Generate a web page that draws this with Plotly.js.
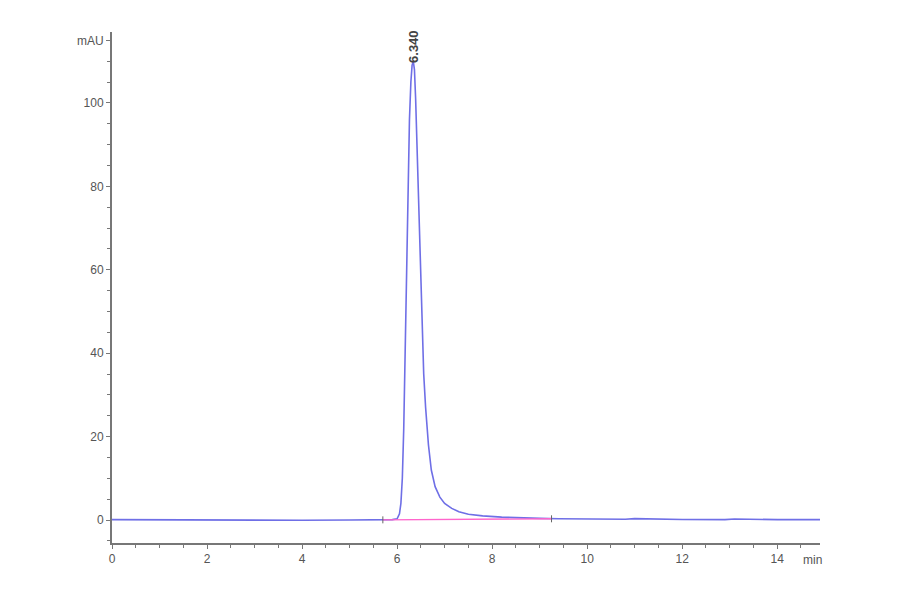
<!DOCTYPE html>
<html>
<head>
<meta charset="utf-8">
<script src="https://cdn.plot.ly/plotly-3.0.1.min.js"></script>
<style>
  html, body { margin: 0; padding: 0; background: #fff; }
  #chart { width: 900px; height: 594px; }
</style>
</head>
<body>
<div id="chart"></div>
<script>
// retention time (min) and detector signal (mAU)
var time_min = [0, 1, 1.8, 2.2, 3, 4, 5, 5.6, 5.9, 6.0, 6.05, 6.08, 6.11, 6.14, 6.17, 6.2, 6.23, 6.26, 6.29, 6.315,
                6.34, 6.365, 6.39, 6.41, 6.44, 6.48, 6.52, 6.56, 6.6, 6.66, 6.72, 6.8, 6.9, 7.0, 7.15, 7.3, 7.5, 7.8,
                8.2, 8.6, 9.0, 9.4, 10, 10.8, 11.0, 11.4, 12, 12.9, 13.1, 14, 14.9];
var signal_mau = [0.1, 0.05, 0.05, -0.1, -0.1, -0.05, 0, 0.05, 0.1, 0.3, 1.5, 4, 10, 22, 40, 60, 81, 96, 105, 109,
                  110, 108, 101, 93, 80, 62, 46, 35, 27, 18, 12, 8, 5.5, 4, 2.8, 2.0, 1.4, 1.0,
                  0.7, 0.5, 0.4, 0.3, 0.2, 0.2, 0.35, 0.2, 0.15, 0.1, 0.25, 0.1, 0.1];

// integration baseline
var base_time = [5.7, 9.25];
var base_mau = [0.05, 0.3];

// peak label
var peak_rt = 6.34;
var peak_height = 110;
var peak_label = '6.340';

var ytick_vals = [0, 20, 40, 60, 80, 100, 115];
var ytick_text = ['0', '20', '40', '60', '80', '100', 'mAU'];
var xtick_vals = [0, 2, 4, 6, 8, 10, 12, 14];

var font_family = 'Liberation Sans, Arial, sans-serif';

var signal = {
    x: time_min,
    y: signal_mau,
    type: 'scatter',
    mode: 'lines',
    line: {color: '#6f6fe6', width: 1.6},
    hoverinfo: 'skip'
};

var baseline = {
    x: base_time,
    y: base_mau,
    type: 'scatter',
    mode: 'lines+markers',
    line: {color: '#ff66cc', width: 1.4},
    marker: {symbol: 'line-ns-open', size: 5, color: '#666', line: {color: '#666', width: 1}},
    hoverinfo: 'skip'
};

var layout = {
    width: 900,
    height: 594,
    margin: {l: 112, r: 80, t: 32, b: 51},
    paper_bgcolor: '#fff',
    plot_bgcolor: '#fff',
    showlegend: false,
    font: {family: font_family, size: 12, color: '#555'},
    xaxis: {
        range: [0, 14.9],
        showgrid: false,
        zeroline: false,
        showline: true,
        linecolor: '#777',
        linewidth: 2,
        ticks: 'outside',
        ticklen: 4,
        tickcolor: '#777',
        tickvals: xtick_vals,
        ticktext: xtick_vals.map(String),
        minor: {dtick: 0.5, ticks: 'outside', ticklen: 3, tickcolor: '#777', showgrid: false},
        tickfont: {size: 12, color: '#555'}
    },
    yaxis: {
        range: [-5.5, 117],
        showgrid: false,
        zeroline: false,
        showline: true,
        linecolor: '#777',
        linewidth: 2,
        ticks: 'outside',
        ticklen: 4,
        tickcolor: '#777',
        tickvals: ytick_vals,
        ticktext: ytick_text,
        minor: {dtick: 5, ticks: 'outside', ticklen: 3, tickcolor: '#777', showgrid: false},
        tickfont: {size: 12, color: '#555'}
    },
    annotations: [
        {
            x: peak_rt, y: peak_height, xref: 'x', yref: 'y',
            text: '<b>' + peak_label + '</b>', textangle: -90, showarrow: false,
            yanchor: 'bottom', xanchor: 'center', yshift: -4,
            font: {size: 13, color: '#444', family: font_family}
        },
        {
            x: 14.75, y: 0, xref: 'x', yref: 'paper',
            text: 'min', showarrow: false,
            yanchor: 'top', xanchor: 'center', yshift: -8,
            font: {size: 12, color: '#555', family: font_family}
        }
    ]
};

Plotly.newPlot('chart', [signal, baseline], layout, {displayModeBar: false, staticPlot: true});
</script>
</body>
</html>
